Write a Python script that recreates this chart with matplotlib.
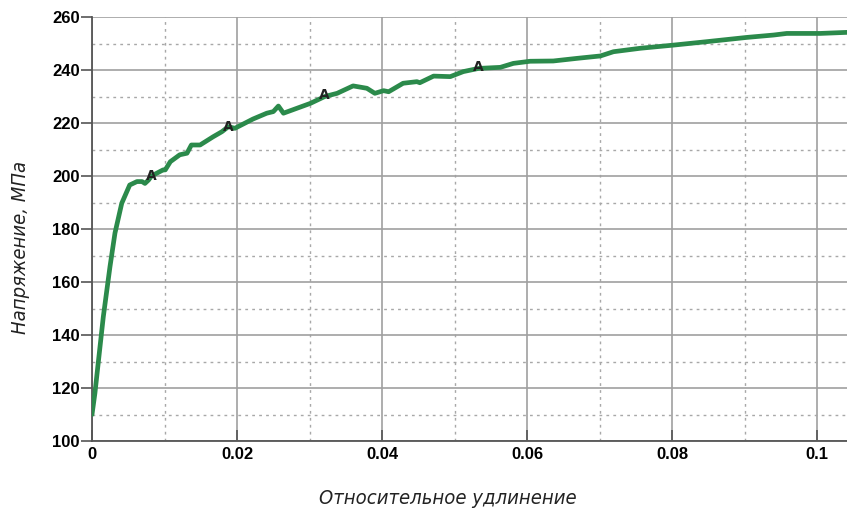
import matplotlib
matplotlib.use("Agg")
import matplotlib.pyplot as plt
from matplotlib.ticker import MultipleLocator

strain = [0.0, 0.0004, 0.0008, 0.00156, 0.00248, 0.00317, 0.0041, 0.0052, 0.0062, 0.0069, 0.0073,
          0.0078, 0.0082, 0.0098, 0.0101, 0.0108, 0.0121, 0.0131, 0.0137, 0.0149, 0.0167, 0.0179,
          0.0188, 0.0197, 0.0222, 0.0241, 0.0250, 0.0257, 0.0264, 0.0287, 0.0301, 0.0321, 0.0338,
          0.0360, 0.0379, 0.0390, 0.0402, 0.0409, 0.0429, 0.0448, 0.0452, 0.0471, 0.0494, 0.0512,
          0.0533, 0.0563, 0.0581, 0.0604, 0.0636, 0.0669, 0.0701, 0.0719, 0.0756, 0.0802, 0.0848,
          0.0903, 0.0940, 0.0958, 0.1004, 0.1041]
stress = [110.0, 118.0, 128.0, 146.9, 165.8, 178.5, 189.7, 196.6, 197.9, 197.9, 197.2,
          198.5, 200.0, 202.3, 202.3, 205.4, 208.0, 208.6, 211.7, 211.7, 214.8, 216.7,
          218.6, 218.0, 221.5, 223.7, 224.3, 226.4, 223.7, 226.0, 227.4, 230.0, 231.2,
          234.0, 233.1, 231.2, 232.2, 231.8, 235.0, 235.6, 235.2, 237.7, 237.5, 239.4,
          240.6, 241.0, 242.5, 243.3, 243.4, 244.4, 245.3, 246.9, 248.2, 249.4, 250.7,
          252.3, 253.2, 253.8, 253.8, 254.2]

marker_x = [0.0082, 0.0188, 0.0321, 0.0533]
marker_y = [200.0, 218.6, 230.6, 241.0]
marker_label = "A"

xticks = [0, 0.02, 0.04, 0.06, 0.08, 0.1]
xticklabels = ["0", "0.02", "0.04", "0.06", "0.08", "0.1"]
yticks = [100, 120, 140, 160, 180, 200, 220, 240, 260]

fig = plt.figure(figsize=(8.47, 5.14), dpi=100)
ax = fig.add_axes([92/847, 73/514, 1 - 92/847, 424/514])

ax.plot(strain, stress, color="#2b8a4b", lw=3.4, solid_joinstyle="round", solid_capstyle="round", zorder=3)
for mx, my in zip(marker_x, marker_y):
    ax.text(mx, my, marker_label, ha="center", va="center", fontsize=10, fontweight="bold",
            color="#222222", zorder=4)

ax.set_xlim(0, 0.1041)
ax.set_ylim(100, 260)
ax.set_xticks(xticks)
ax.set_xticklabels(xticklabels)
ax.set_yticks(yticks)
ax.xaxis.set_minor_locator(MultipleLocator(0.01))
ax.yaxis.set_minor_locator(MultipleLocator(10))

ax.grid(which="major", color="#a0a0a0", lw=1.2, ls="-")
ax.grid(which="minor", color="#a8a8a8", lw=1.0, ls=(0, (2, 3)))

for lab in ax.get_xticklabels() + ax.get_yticklabels():
    lab.set_family(["Liberation Sans Narrow", "Liberation Sans", "DejaVu Sans"])
    lab.set_fontweight("bold")
    lab.set_fontsize(12)

ax.tick_params(axis="y", which="major", direction="out", length=8, width=1.2, color="#555555", pad=1)
ax.tick_params(axis="x", which="major", direction="in", length=8, width=1.2, color="#555555", pad=4)
ax.tick_params(which="minor", length=0)

for s in ["right", "top"]:
    ax.spines[s].set_visible(False)
for s in ["left", "bottom"]:
    ax.spines[s].set_color("#555555")
    ax.spines[s].set_linewidth(1.3)

lab_font = dict(family="DejaVu Sans", stretch="condensed", style="oblique", fontsize=14.5, color="#222222")
fig.text(448/847, 1 - 498/514, "Относительное удлинение", ha="center", va="center", **lab_font)
fig.text(21/847, 1 - 247/514, "Напряжение, МПа", ha="center", va="center", rotation=90, **lab_font)

fig.savefig("out.png", dpi=100)
